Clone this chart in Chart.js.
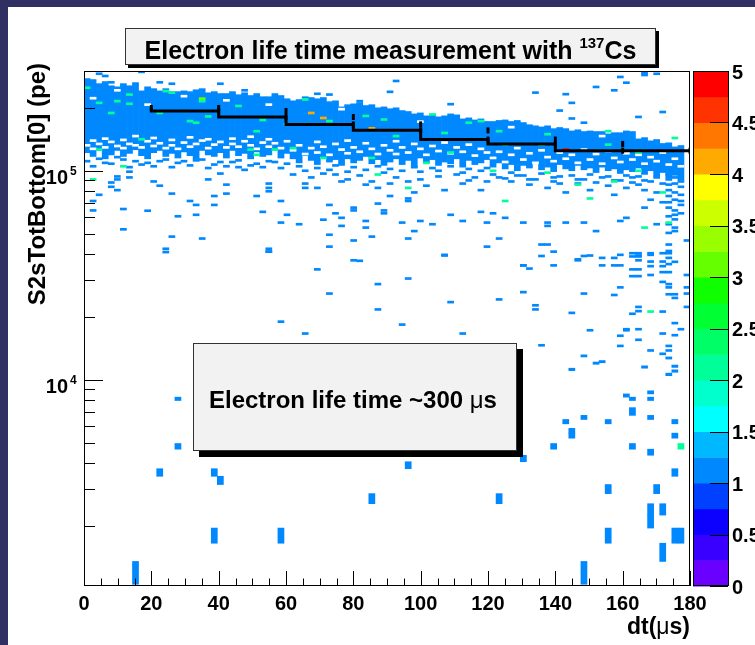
<!DOCTYPE html>
<html>
<head>
<meta charset="utf-8">
<title>Electron life time measurement with 137Cs</title>
<script src="https://cdn.jsdelivr.net/npm/chart.js@4.4.1/dist/chart.umd.min.js"></script>
<style>
  html, body { margin: 0; padding: 0; background: #fff; }
  canvas { display: block; }
</style>
</head>
<body>
<canvas id="lifetime" width="755" height="645"></canvas>
<script>
// ---- binning of the TH2 ------------------------------------------------
const X_RANGE = [0, 180];          // dt (us)
const X_BINS = 100;                // 1.8 us per bin
const Y_RANGE = [1030, 300000];    // S2sTotBottom[0] (pe), log axis
const Y_BIN_PE = 300;              // pe per bin

// ---- axis labels ---------------------------------------------------------
const X_TICK_LABELS = ['0', '20', '40', '60', '80', '100', '120', '140', '160', '180'];
const Y_DECADE_EXP = [3, 4, 5];
const Y_LABEL_EXP = [4, 5];
const Z_TICK_LABELS = ['0', '0.5', '1', '1.5', '2', '2.5', '3', '3.5', '4', '4.5', '5'];

// 20 contour colours, z = 0 .. 5
const PALETTE = ['#6a00ff', '#3a00ff', '#0c00ff', '#0040ff', '#0088ff', '#00b8ff', '#00ffff', '#00ffcc',
  '#00ff99', '#00ff66', '#00ff33', '#10ff00', '#66ff00', '#99ff00', '#ccff00', '#ffff00',
  '#ffaa00', '#ff7700', '#ff3300', '#ff0000'];

// ---- dense band, one value per dt bin (0..98), kpe -----------------------
const BAND_TOP_KPE = [
  276, 273, 261, 267, 255, 252, 261, 255, 264, 241,
  252, 247, 241, 247, 239, 239, 241, 239, 244, 247,
  236, 239, 234, 234, 239, 231, 236, 229, 234, 226,
  226, 234, 229, 221, 216, 219, 226, 224, 221, 224,
  214, 216, 202, 207, 209, 212, 205, 207, 200, 202,
  198, 200, 194, 192, 187, 189, 183, 185, 181, 183,
  187, 185, 177, 179, 175, 177, 172, 172, 174, 175,
  172, 174, 170, 166, 164, 162, 164, 159, 161, 159,
  155, 157, 154, 155, 154, 154, 150, 152, 152, 155,
  154, 142, 144, 139, 141, 135, 136, 130, 132];
const BAND_BOT_KPE = [
  122, 117, 125, 114, 119, 125, 117, 121, 126, 118,
  114, 122, 125, 117, 121, 115, 123, 118, 114, 125,
  119, 117, 122, 115, 125, 118, 121, 114, 123, 117,
  119, 125, 115, 121, 114, 109, 118, 112, 107, 115,
  110, 113, 106, 114, 109, 112, 117, 108, 113, 106,
  110, 114, 107, 112, 104, 115, 109, 113, 106, 110,
  108, 114, 104, 112, 107, 109, 113, 104, 109, 102,
  107, 100, 106, 103, 108, 101, 104, 99, 107, 102,
  100, 106, 101, 103, 98, 104, 100, 102, 97, 101,
  99, 103, 96, 100, 94, 98, 92, 95, 90];

// empty bins inside the band: [dt bin, kpe]
const BAND_HOLES = [
  [0, 131], [1, 138], [1, 126], [2, 133], [3, 128], [3, 141], [4, 136], [5, 130], [6, 139], [6, 127],
  [7, 133], [8, 145], [8, 131], [9, 128], [10, 137], [11, 130], [11, 142], [12, 134], [13, 127], [14, 139],
  [14, 131], [15, 126], [16, 135], [17, 129], [17, 143], [18, 133], [19, 138], [20, 127], [20, 140], [21, 132],
  [22, 136], [23, 128], [24, 141], [24, 133], [25, 129], [26, 137], [27, 131], [27, 144], [28, 126], [29, 135],
  [30, 129], [30, 140], [31, 134], [32, 127], [33, 137], [34, 124], [35, 131], [36, 119], [37, 127], [38, 136],
  [38, 121], [39, 129], [40, 118], [41, 133], [42, 125], [43, 120], [43, 138], [44, 128], [45, 122], [46, 134],
  [47, 126], [48, 119], [49, 131], [50, 124], [51, 137], [51, 119], [52, 128], [53, 121], [54, 133], [55, 126],
  [56, 118], [57, 130], [58, 123], [59, 135], [60, 120], [61, 128], [62, 122], [63, 132], [64, 117], [65, 126],
  [66, 121], [67, 114], [68, 122], [69, 109], [70, 118], [71, 127], [72, 112], [73, 120], [74, 108], [75, 124],
  [76, 115], [77, 110], [78, 121], [79, 113], [80, 118], [81, 108], [82, 125], [83, 112], [84, 119], [85, 107],
  [86, 123], [87, 114], [88, 109], [89, 120], [90, 112], [91, 118], [92, 107], [93, 115], [94, 110], [95, 121],
  [96, 106], [97, 113], [98, 104],
  [1, 220], [5, 240], [10, 205], [16, 225], [23, 215], [30, 205], [42, 195], [55, 170], [70, 160], [85, 145]];

// ---- single-entry cells: [dt bin, kpe] -----------------------------------
const SPARSE_CELLS = [
  // above the band
  [2, 288], [3, 281], [4, 262], [9, 294], [12, 262], [14, 258], [22, 258], [26, 240], [38, 231], [40, 229],
  [45, 213], [50, 236], [51, 266], [60, 206], [74, 234], [78, 192], [79, 230], [80, 209], [80, 176], [82, 168],
  [84, 249], [87, 240], [88, 278], [89, 261], [91, 179], [92, 291], [92, 284], [94, 288], [95, 189],
  // fringe just below the band
  [0, 110], [3, 108], [6, 112], [9, 106], [12, 110], [15, 108], [18, 111], [21, 106], [24, 109], [27, 105],
  [30, 110], [33, 107], [1, 104], [2, 113], [4, 107], [5, 115], [7, 103], [8, 110], [10, 108], [11, 104],
  [13, 112], [14, 103], [16, 110], [17, 105], [19, 112], [20, 102], [22, 109], [23, 104], [25, 111], [26, 100],
  [28, 107], [29, 103], [31, 109], [32, 102], [35, 104], [36, 99], [38, 102], [40, 100], [41, 105], [43, 98],
  [44, 103], [46, 100], [48, 104], [49, 97], [50, 101], [52, 99], [54, 103], [55, 98], [57, 102], [58, 99],
  [60, 104], [62, 97], [63, 101], [65, 99], [66, 102], [67, 95], [69, 91], [70, 97], [72, 94], [73, 90],
  [75, 96], [77, 92], [78, 86], [80, 94], [81, 90], [83, 95], [84, 87], [86, 93], [87, 89], [89, 94],
  [90, 87], [91, 93], [92, 89], [94, 92], [95, 86],
  [34, 95], [37, 92], [39, 96], [41, 95], [42, 88], [43, 90], [45, 94], [46, 85],
  [47, 88], [48, 82], [50, 86], [51, 92], [53, 88], [54, 78], [55, 90], [56, 84], [58, 93], [59, 80],
  [61, 95], [62, 86], [63, 89], [64, 92], [65, 80], [66, 88], [68, 92], [70, 88], [71, 94], [73, 85],
  [74, 90], [76, 82], [77, 88], [78, 93], [79, 78], [81, 86], [82, 90], [83, 80], [85, 92], [86, 84],
  [87, 76], [88, 89], [89, 82], [90, 92], [91, 85], [92, 80], [93, 88], [94, 78], [95, 70], [93, 72],
  [92, 66], [96, 95], [96, 90], [96, 85], [96, 80], [96, 75], [96, 70], [96, 66], [96, 60], [96, 55],
  [96, 50], [97, 92], [97, 86], [97, 78], [97, 72], [97, 64], [97, 58], [97, 53], [98, 88], [98, 83],
  [98, 76], [98, 68],
  // tail 35 - 100 kpe
  [4, 87], [4, 83], [5, 93], [5, 90], [5, 80], [7, 92], [7, 98], [2, 76], [1, 71], [1, 64],
  [6, 65], [6, 52], [11, 88], [12, 84], [14, 77], [15, 60], [14, 48], [13, 42], [13, 40.5], [17, 71],
  [18, 68], [18, 61], [19, 47], [20, 90], [21, 75], [21, 68], [22, 96], [23, 85], [23, 77], [25, 103],
  [28, 75], [29, 63], [30, 86], [30, 82], [30, 79], [30, 42], [30, 40.7], [32, 56], [32, 71], [33, 61],
  [35, 55], [36, 82], [36, 86], [38, 82], [40, 68], [40, 49], [40, 43], [41, 62], [42, 59], [42, 54],
  [44, 66], [44, 64], [44, 46], [44, 37], [46, 57], [46, 53], [47, 48], [48, 69], [49, 64], [49, 62],
  [50, 75], [52, 56], [53, 47], [53, 71], [53, 73], [54, 51], [55, 57], [57, 55], [59, 39], [60, 61],
  [62, 57], [65, 63], [66, 56], [66, 43], [67, 62], [69, 59], [72, 56], [76, 56], [76, 54], [79, 56],
  [82, 56], [84, 51], [88, 57], [89, 59], [94, 55], [68, 47], [75, 44], [76, 44], [81, 37], [83, 39],
  [77, 35], [72, 35], [85, 38], [87, 38], [91, 39], [91, 37], [93, 40], [96, 44], [96, 41], [96, 38],
  [96, 35.5], [97, 51], [97, 61], [98, 71], [98, 62], [99, 46], [10, 63.8], [39, 57.8],
  // 10 - 40 kpe
  [30, 40.7], [45, 36.8], [38, 33.5], [59, 39.3], [53, 30.3], [48, 28.5], [40, 25.7], [48, 21.6], [60, 23.4], [68, 24.1],
  [32, 18.9], [36, 16.6], [52, 18.3], [62, 16.6], [72, 35], [73, 33.8], [75, 38.8], [77, 40.7], [72, 26.1], [74, 22.6],
  [74, 21.6], [75, 14.6], [80, 20.8], [81, 37.4], [82, 38.8], [82, 25.7], [83, 17.2], [82, 13], [84, 12], [80, 11.2],
  [85, 35], [87, 35], [88, 39.3], [88, 35], [87, 25.3], [88, 27.5], [89, 17.2], [88, 16.2], [88, 14.5], [90, 40],
  [90, 38.6], [91, 40], [91, 38.6], [90, 33.5], [91, 33.5], [90, 31.1], [91, 31.1], [93, 39.3], [95, 40], [96, 40],
  [93, 36.5], [95, 36.5], [93, 34.7], [95, 34.7], [95, 32.5], [96, 32.5], [93, 31.5], [97, 36.4], [95, 29.2], [96, 28.5],
  [96, 27.5], [96, 25.5], [97, 25.5], [97, 24.5], [99, 31.5], [99, 25.7], [99, 22.2], [99, 27.5], [91, 22.2], [91, 21.2],
  [90, 20.6], [95, 21.1], [89, 17.4], [91, 17.4], [95, 16.6], [97, 16.3], [98, 17.4], [97, 18.6], [91, 15.5], [93, 13.8],
  [96, 14.5], [96, 13.8], [95, 13.3], [96, 12.7], [92, 11.5], [97, 11.6], [97, 11], [96, 10.6], [85, 12.2],
  // below 10 kpe
  [15, 8.1], [15, 4.8], [12, 3.6], [21, 3.6], [22, 3.3], [21, 1.8], [32, 1.8], [8, 1.2], [53, 3.9], [47, 2.7],
  [68, 2.7], [72, 4.2], [77, 4.8], [79, 6.3], [80, 5.4], [80, 5.7], [82, 6.6], [86, 6.3], [86, 3.0], [86, 1.8],
  [82, 1.2], [89, 8.4], [90, 8.1], [90, 6.9], [90, 7.2], [90, 4.8], [93, 8.7], [93, 8.1], [93, 6.6], [93, 4.5],
  [97, 6.3], [97, 5.4], [97, 3.6], [94, 3.0], [95, 2.4], [93, 2.1], [93, 2.4], [97, 1.8], [98, 1.8], [95, 1.5]];

// ---- cells with more entries: [dt bin, kpe, content] ---------------------
const HOT_CELLS = [
  [0, 247, 2], [2, 209, 2], [5, 213, 2], [7, 229, 2], [7, 207, 2], [13, 238, 2], [14, 234, 2], [19, 219, 3], [19, 213, 2], [12, 187, 2],
  [17, 171, 2], [18, 168, 2], [20, 180, 2], [25, 202, 2], [28, 153, 2], [29, 173, 2], [4, 187, 2], [2, 125, 2], [9, 140, 2], [6, 104, 2],
  [1, 90, 2], [27, 125, 2], [28, 118, 2], [31, 125, 2], [33, 165, 2], [36, 217, 2], [40, 171, 2], [46, 181, 2], [49, 174, 2], [51, 145, 2],
  [47, 114, 2], [57, 184, 2], [59, 150, 2], [60, 121, 2], [63, 168, 2], [65, 171, 2], [34, 127, 2], [39, 114, 2], [53, 82, 2], [56, 108, 2],
  [48, 95, 2], [68, 153, 2], [69, 132, 2], [75, 132, 2], [76, 148, 2], [86, 153, 2], [86, 132, 2], [91, 121, 2], [97, 142, 2], [81, 85, 2],
  [87, 88, 2], [83, 73, 2], [92, 53, 2], [69, 71, 2], [67, 99, 2], [96, 56, 2], [95, 78, 2], [76, 97, 2], [91, 99, 2], [93, 21.1, 2],
  [98, 4.8, 2],
  [37, 187, 4], [39, 177, 4], [47, 158, 4],
  [79, 125, 5]];

// ---- profile (mean S2 per 20 us slice) ------------------------------------
const PROFILE_EDGES = [20, 40, 60, 80, 100, 120, 140, 160, 180];
const PROFILE_MEAN_KPE = [199.5, 193.0, 180.7, 166.6, 156.0, 141.0, 134.2, 124.7];

// ---- layout ---------------------------------------------------------------
const PAD = { left: 84, top: 71, right: 65, bottom: 59 };
const BIN_PX = (755 - PAD.left - PAD.right) / X_BINS;
const BIN_W = (X_RANGE[1] - X_RANGE[0]) / X_BINS;
const FONT = "'Liberation Sans', Arial, Helvetica, sans-serif";

const binCentre = b => X_RANGE[0] + (b + 0.5) * BIN_W;
const zColour = z => PALETTE[Math.min(PALETTE.length - 1, Math.floor(z / 5 * PALETTE.length + 1e-6))];
const cellBar = ([b, kpe]) => {
  const c = kpe * 1000;
  return { x: binCentre(b), y: [c - Y_BIN_PE / 2, c + Y_BIN_PE / 2] };
};
const cellStyle = { type: 'bar', barThickness: BIN_PX, grouped: false, borderWidth: 0, minBarLength: 2, yAxisID: 'y' };

const datasets = [];

// profile line + end caps
const profilePts = PROFILE_MEAN_KPE.map((m, i) => ({ x: PROFILE_EDGES[i], y: m * 1000 }));
profilePts.push({ x: PROFILE_EDGES[PROFILE_EDGES.length - 1], y: PROFILE_MEAN_KPE[PROFILE_MEAN_KPE.length - 1] * 1000 });
datasets.push({ type: 'line', data: profilePts, stepped: 'after', borderColor: '#000', borderWidth: 3,
  pointRadius: 0, yAxisID: 'y', order: 0 });
const capPts = [];
PROFILE_MEAN_KPE.forEach((m, i) => {
  capPts.push({ x: PROFILE_EDGES[i], y: m * 1000 }, { x: PROFILE_EDGES[i + 1], y: m * 1000 });
});
datasets.push({ type: 'line', data: capPts, showLine: false, pointStyle: 'line', rotation: 90, pointRadius: 3,
  pointBorderWidth: 3, pointBorderColor: '#000', yAxisID: 'y', order: 0 });

// hot cells grouped by colour
const hotGroups = {};
HOT_CELLS.forEach(([b, kpe, z]) => {
  const col = zColour(z);
  (hotGroups[col] = hotGroups[col] || []).push(cellBar([b, kpe]));
});
Object.entries(hotGroups).forEach(([col, data]) => datasets.push({ ...cellStyle, data, backgroundColor: col, order: 1 }));

// single cells
datasets.push({ ...cellStyle, data: SPARSE_CELLS.map(cellBar), backgroundColor: zColour(1), order: 2 });

// empty bins punched into the band (pad background colour)
datasets.push({ ...cellStyle, data: BAND_HOLES.map(cellBar), backgroundColor: '#ffffff', order: 2.5 });

// dense band
datasets.push({ ...cellStyle, minBarLength: 0, backgroundColor: zColour(1), order: 3,
  data: BAND_TOP_KPE.map((t, b) => ({ x: binCentre(b), y: [BAND_BOT_KPE[b] * 1000, t * 1000] })) });

// ---- ROOT style frame, axes, palette and labels ---------------------------
function drawBox(ctx, x0, y0, x1, y1, shadow) {
  ctx.fillStyle = '#000';
  ctx.fillRect(x0 + shadow, y0 + shadow, x1 - x0, y1 - y0);
  ctx.fillStyle = '#f2f2f2';
  ctx.fillRect(x0, y0, x1 - x0, y1 - y0);
  ctx.strokeStyle = '#333';
  ctx.lineWidth = 1;
  ctx.strokeRect(x0 + 0.5, y0 + 0.5, x1 - x0 - 1, y1 - y0 - 1);
}

const rootFrame = {
  id: 'rootFrame',
  beforeDraw(chart) {
    const { ctx, width, height } = chart;
    ctx.save();
    ctx.fillStyle = '#303062';
    ctx.fillRect(0, 0, width, height);
    ctx.fillStyle = '#fff';
    ctx.fillRect(8, 7, width - 8, height - 7);
    ctx.restore();
  },
  afterDatasetsDraw(chart) {
    const { ctx, chartArea: a } = chart;
    const { x, y, z } = chart.scales;
    ctx.save();

    // text box inside the pad
    drawBox(ctx, 193, 343, 517, 451, 6);
    ctx.fillStyle = '#000';
    ctx.textBaseline = 'alphabetic';
    ctx.textAlign = 'left';
    ctx.font = `bold 24px ${FONT}`;
    let tx = 209;
    const part1 = 'Electron life time ~300 ';
    ctx.fillText(part1, tx, 408);
    tx += ctx.measureText(part1).width;
    ctx.font = `24px ${FONT}`;
    ctx.fillText('\u03bc', tx, 408);
    tx += ctx.measureText('\u03bc').width;
    ctx.font = `bold 24px ${FONT}`;
    ctx.fillText('s', tx, 408);

    // frame
    ctx.strokeStyle = '#000';
    ctx.lineWidth = 1;
    ctx.strokeRect(a.left + 0.5, a.top + 0.5, a.width - 1, a.height - 1);

    // x ticks
    ctx.beginPath();
    for (let v = X_RANGE[0]; v <= X_RANGE[1]; v += 5) {
      const px = Math.round(x.getPixelForValue(v)) + 0.5;
      const len = v % 20 === 0 ? 15 : 7.5;
      ctx.moveTo(px, a.bottom);
      ctx.lineTo(px, a.bottom - len);
    }
    // y ticks (log)
    Y_DECADE_EXP.forEach(e => {
      for (let m = 1; m <= 9; m++) {
        const v = m * Math.pow(10, e);
        if (v < Y_RANGE[0] || v > Y_RANGE[1]) continue;
        const py = Math.round(y.getPixelForValue(v)) + 0.5;
        ctx.moveTo(a.left, py);
        ctx.lineTo(a.left + (m === 1 ? 19 : 11), py);
      }
    });
    ctx.stroke();

    // tick labels
    ctx.fillStyle = '#000';
    ctx.font = `bold 20px ${FONT}`;
    ctx.textAlign = 'center';
    X_TICK_LABELS.forEach(l => ctx.fillText(l, x.getPixelForValue(+l), a.bottom + 24));
    Y_LABEL_EXP.forEach(e => {
      const py = y.getPixelForValue(Math.pow(10, e));
      ctx.font = `bold 20px ${FONT}`;
      ctx.textAlign = 'right';
      ctx.fillText('10', a.left - 16, py + 13);
      ctx.font = `bold 12px ${FONT}`;
      ctx.textAlign = 'left';
      ctx.fillText(String(e), a.left - 14, py + 4);
    });

    // axis titles
    ctx.font = `bold 24px ${FONT}`;
    ctx.save();
    ctx.translate(45, 63);
    ctx.rotate(-Math.PI / 2);
    ctx.textAlign = 'right';
    ctx.fillText('S2sTotBottom[0] (pe)', 0, 0);
    ctx.restore();
    ctx.textAlign = 'left';
    const xt = [['dt(', 'bold'], ['\u03bc', ''], ['s)', 'bold']];
    let w = 0;
    xt.forEach(([s, f]) => { ctx.font = `${f} 23px ${FONT}`; w += ctx.measureText(s).width; });
    let xx = a.right - w;
    xt.forEach(([s, f]) => { ctx.font = `${f} 23px ${FONT}`; ctx.fillText(s, xx, 634); xx += ctx.measureText(s).width; });

    // palette
    const cbL = a.right + 3, cbR = a.right + 38;
    const step = 5 / PALETTE.length;
    PALETTE.forEach((c, i) => {
      const top = z.getPixelForValue((i + 1) * step), bot = z.getPixelForValue(i * step);
      ctx.fillStyle = c;
      ctx.fillRect(cbL, top, cbR - cbL, bot - top + 0.5);
    });
    ctx.strokeStyle = '#000';
    ctx.strokeRect(cbL + 0.5, a.top + 0.5, cbR - cbL, a.height - 1);
    ctx.beginPath();
    Z_TICK_LABELS.forEach(l => {
      const py = Math.round(z.getPixelForValue(+l)) + 0.5;
      ctx.moveTo(cbR, py);
      ctx.lineTo(cbR - 18, py);
    });
    ctx.stroke();
    ctx.fillStyle = '#000';
    ctx.font = `bold 20px ${FONT}`;
    ctx.textAlign = 'left';
    ctx.textBaseline = 'middle';
    Z_TICK_LABELS.forEach(l => ctx.fillText(l, cbR + 4, z.getPixelForValue(+l) + 2));

    // title pave
    ctx.textBaseline = 'alphabetic';
    drawBox(ctx, 125, 28, 656, 65, 3);
    ctx.fillStyle = '#000';
    const t1 = 'Electron life time measurement with ', t2 = '137', t3 = 'Cs';
    ctx.font = `bold 25px ${FONT}`;
    const w1 = ctx.measureText(t1).width, w3 = ctx.measureText(t3).width;
    ctx.font = `bold 15px ${FONT}`;
    const w2 = ctx.measureText(t2).width;
    let sx = 390.5 - (w1 + w2 + w3) / 2;
    ctx.font = `bold 25px ${FONT}`;
    ctx.fillText(t1, sx, 59);
    ctx.font = `bold 15px ${FONT}`;
    ctx.fillText(t2, sx + w1, 48);
    ctx.font = `bold 25px ${FONT}`;
    ctx.fillText(t3, sx + w1 + w2, 59);

    ctx.restore();
  }
};

new Chart(document.getElementById('lifetime'), {
  type: 'bar',
  data: { datasets },
  options: {
    responsive: false,
    animation: false,
    events: [],
    layout: { padding: PAD },
    plugins: { legend: { display: false }, tooltip: { enabled: false } },
    scales: {
      x: { type: 'linear', min: X_RANGE[0], max: X_RANGE[1], offset: false, display: false },
      y: { type: 'logarithmic', min: Y_RANGE[0], max: Y_RANGE[1], display: false },
      z: { type: 'linear', axis: 'y', min: 0, max: 5, display: false }
    }
  },
  plugins: [rootFrame]
});
</script>
</body>
</html>
